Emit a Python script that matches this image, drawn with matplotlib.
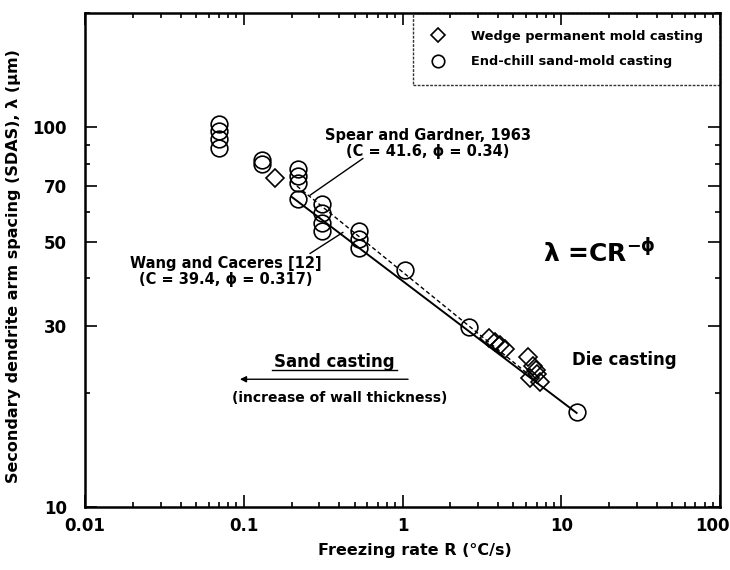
import numpy as np
import matplotlib
matplotlib.use("Agg")
import matplotlib.pyplot as plt
from matplotlib.ticker import FixedLocator, LogLocator, NullFormatter
from matplotlib.lines import Line2D
from matplotlib.transforms import ScaledTranslation

plt.rcParams['font.family'] = ['DejaVu Sans']
plt.rcParams['font.weight'] = 'bold'
plt.rcParams['mathtext.default'] = 'bf'

# End-chill sand-mold casting (circles)
endchill_R = [0.07, 0.07, 0.07, 0.07, 0.13, 0.13, 0.22, 0.22, 0.22, 0.22,
              0.31, 0.31, 0.31, 0.31, 0.53, 0.53, 0.53, 1.03, 2.64, 12.5]
endchill_L = [102, 98, 93, 88, 82, 80, 77.6, 74.5, 71.3, 64.8,
              62.8, 59.6, 56.1, 53.4, 53.4, 50.9, 48.2, 42, 29.8, 17.8]

# Wedge permanent mold casting (diamonds)
wedge_R = [0.157, 3.5, 3.8, 4.1, 4.4, 6.2, 6.6, 7.0, 7.3, 6.4, 6.9]
wedge_L = [73.5, 27.8, 27.2, 26.7, 26.0, 24.8, 23.5, 22.4, 21.3, 21.8, 22.9]

# Fits lambda = C R^-phi
wang_C, wang_phi = 39.4, 0.317
spear_C, spear_phi = 41.6, 0.34
fit_R_range = [0.2, 12.5]
spear_R_range = [0.2, 7.0]

xticks = [0.01, 0.1, 1, 10, 100]
xtick_labels = ['0.01', '0.1', '1', '10', '100']
yticks = [10, 30, 50, 70, 100]
ytick_labels = ['10', '30', '50', '70', '100']

fig = plt.figure(figsize=(7.3, 5.7), dpi=100)
ax = fig.add_axes([85/730, 63/570, 635/730, 494/570])
ax.set_xscale('log')
ax.set_yscale('log')
ax.set_xlim(0.01, 100)
ax.set_ylim(10, 200)

rw = np.logspace(np.log10(fit_R_range[0]), np.log10(fit_R_range[1]), 50)
ax.plot(rw, wang_C * rw ** (-wang_phi), color='black', lw=1.4, zorder=2)
rs = np.logspace(np.log10(spear_R_range[0]), np.log10(spear_R_range[1]), 50)
ax.plot(rs, spear_C * rs ** (-spear_phi), color='black', lw=1.0, ls=(0, (3, 2)), zorder=2)

ax.plot(endchill_R, endchill_L, 'o', mfc='none', mec='black', mew=1.2, ms=12, zorder=3)
ax.plot(wedge_R, wedge_L, 'D', mfc='none', mec='black', mew=1.2, ms=9, zorder=3)

ax.xaxis.set_major_locator(FixedLocator(xticks))
ax.set_xticklabels(xtick_labels)
ax.yaxis.set_major_locator(FixedLocator(yticks))
ax.set_yticklabels(ytick_labels)
ax.xaxis.set_minor_locator(LogLocator(base=10, subs=np.arange(2, 10)))
ax.xaxis.set_minor_formatter(NullFormatter())
ax.yaxis.set_minor_locator(FixedLocator([20, 40, 60, 80, 90, 200]))
ax.yaxis.set_minor_formatter(NullFormatter())
ax.tick_params(which='both', direction='in', top=True, right=True, labelsize=12, width=1.2)
ax.tick_params(which='major', length=8.5)
ax.tick_params(which='minor', length=3.8)
ax.tick_params(axis='y', which='major', pad=13)
ax.tick_params(axis='x', which='major', pad=7)
for s in ax.spines.values():
    s.set_linewidth(1.8)
last = ax.get_xticklabels()[-1]
last.set_transform(last.get_transform() + ScaledTranslation(-8/100, 0, fig.dpi_scale_trans))

ax.set_xlabel('Freezing rate R (°C/s)', fontsize=11.5, fontweight='bold')
ax.xaxis.set_label_coords(0.52, -0.073)
ax.set_ylabel('Secondary dendrite arm spacing (SDAS), λ (μm)', fontsize=11.5, fontweight='bold')
ax.yaxis.set_label_coords(-0.100, 0.488)

# Annotations
ax.text(1.45, 90.8, 'Spear and Gardner, 1963\n(C = 41.6, ϕ = 0.34)', ha='center', va='center',
        fontsize=10.5, fontweight='bold', linespacing=1.1)
ax.annotate('', xy=(0.261, 66.2), xytext=(0.564, 82.8),
            arrowprops=dict(arrowstyle='-', color='black', lw=1.0, shrinkA=0, shrinkB=0))
ax.text(0.0773, 41.8, 'Wang and Caceres [12]\n(C = 39.4, ϕ = 0.317)', ha='center', va='center',
        fontsize=10.5, fontweight='bold', linespacing=1.1)
ax.annotate('', xy=(0.422, 52.9), xytext=(0.261, 46.5),
            arrowprops=dict(arrowstyle='-', color='black', lw=1.0, shrinkA=0, shrinkB=0))
ax.text(7.67, 46.6, r'$\mathbf{\lambda}$ =CR$^{\mathbf{-\phi}}$', fontsize=18, fontweight='bold',
        ha='left', va='center')
ax.text(0.373, 24.1, 'Sand casting', fontsize=12, fontweight='bold', ha='center', va='center')
ax.plot([0.151, 0.925], [22.9, 22.9], color='black', lw=1.0)
ax.annotate('', xy=(0.0946, 21.7), xytext=(1.084, 21.7),
            arrowprops=dict(arrowstyle='-|>', color='black', lw=1.0, mutation_scale=9,
                            shrinkA=0, shrinkB=0))
ax.text(0.401, 19.4, '(increase of wall thickness)', fontsize=10, fontweight='bold',
        ha='center', va='center')
ax.text(11.7, 24.4, 'Die casting', fontsize=12, fontweight='bold', ha='left', va='center')

# Legend
handles = [Line2D([], [], marker='D', ls='none', mfc='none', mec='black', mew=1.2, ms=7),
           Line2D([], [], marker='o', ls='none', mfc='none', mec='black', mew=1.2, ms=9)]
leg = ax.legend(handles, ['Wedge permanent mold casting', 'End-chill sand-mold casting'],
                loc='upper right', bbox_to_anchor=(1.0, 1.0), frameon=True,
                fancybox=False, borderpad=1.3, handlelength=1.2, handletextpad=2.0,
                labelspacing=0.95, borderaxespad=0.0, prop={'weight': 'bold', 'size': 9.3})
leg.get_frame().set_edgecolor('black')
leg.get_frame().set_facecolor('none')
leg.get_frame().set_linestyle((0, (2, 1)))
leg.get_frame().set_linewidth(1.0)

fig.savefig('out.png', dpi=100)
